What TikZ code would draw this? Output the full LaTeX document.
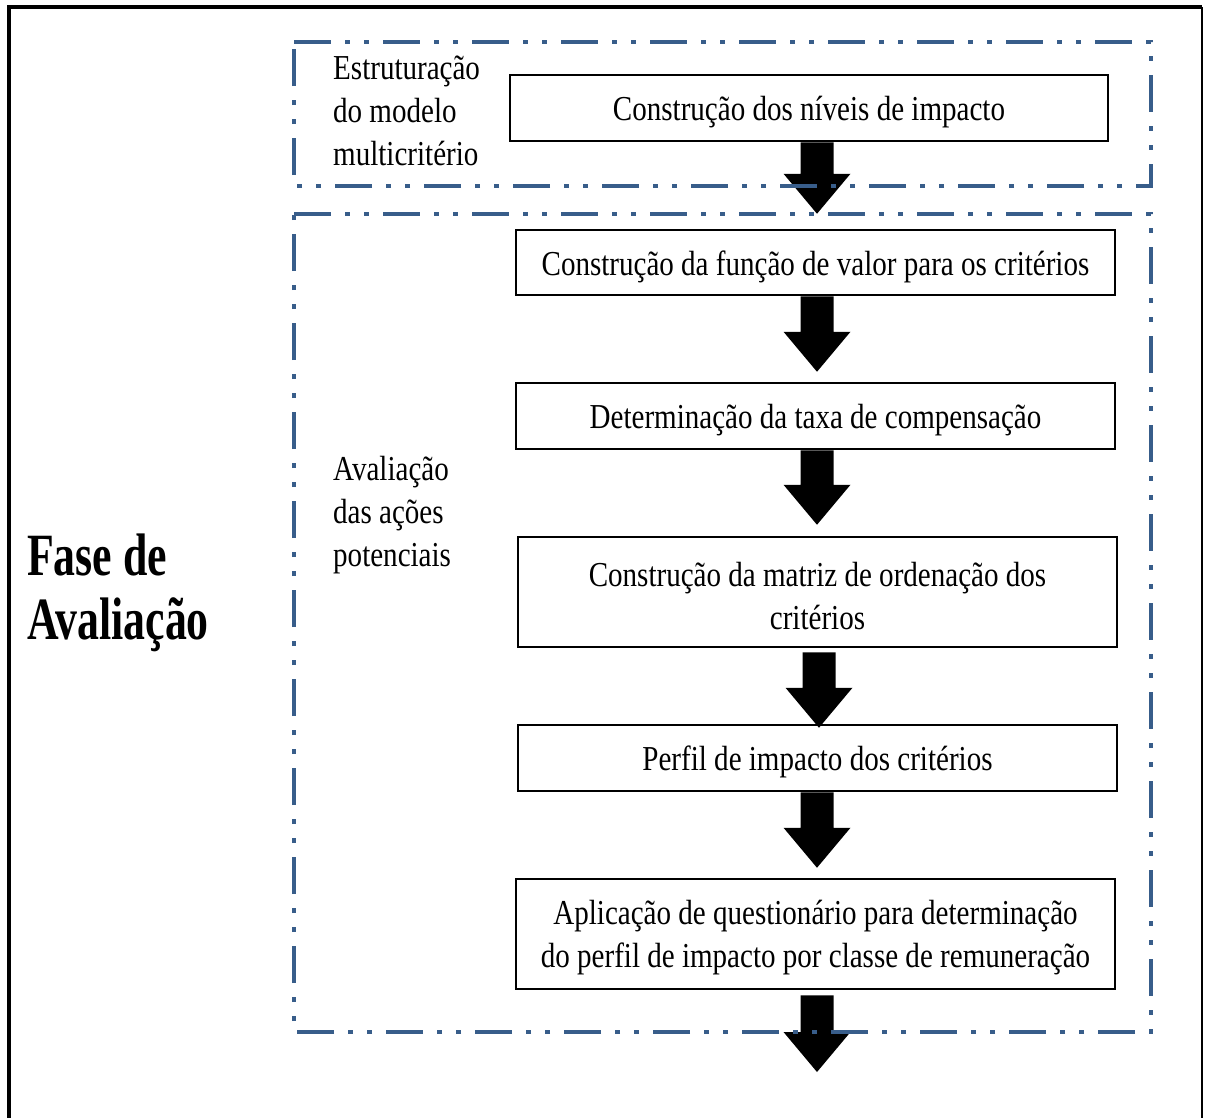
\documentclass[tikz,border=0pt]{standalone}
\usepackage{fontspec}
\setmainfont{Liberation Serif}[FakeStretch=0.83]
\newfontfamily\titlefont{Liberation Serif}[FakeStretch=0.73]
\usetikzlibrary{calc}

\definecolor{frameblue}{HTML}{385D8A}

% set a line a little lower inside its box, keeping the box size
\newcommand\lowline[1]{\raisebox{-4pt}[\height][\depth]{#1}}

\tikzset{
  stepbox/.style={draw=black, line width=2.5pt, fill=white, inner sep=0pt,
    align=center, font=\fontsize{35}{43}\selectfont},
  sidelabel/.style={anchor=west, inner sep=0pt, align=left,
    font=\fontsize{35}{43}\selectfont},
  phaselabel/.style={anchor=west, inner sep=0pt, align=left,
    font=\titlefont\bfseries\fontsize{60}{64}\selectfont},
  groupframe/.style={draw=frameblue, line width=4.5pt,
    dash pattern=on 37pt off 14pt on 5pt off 14pt on 5pt off 14pt},
  blockarrow/.style={fill=black},
}

% thick block arrow: shaft from #1 down to the head, tip at #2
\newcommand\blockarrow[2]{%
  \fill[blockarrow] let \p1=(#1), \p2=(#2) in
    (\x1-16.5pt,\y1) -- (\x1-16.5pt,\y2+40pt) -- (\x1-33.5pt,\y2+40pt)
    -- (\x1,\y2) -- (\x1+33.5pt,\y2+40pt) -- (\x1+16.5pt,\y2+40pt)
    -- (\x1+16.5pt,\y1) -- cycle;}

\begin{document}
\begin{tikzpicture}[x=1pt, y=-1pt]
  \useasboundingbox (0,0) rectangle (1205,1117);

  % outer frame (open at the bottom)
  \draw[line width=4.5pt] (9,1140) -- (9,7) -- (1202,7);
  \draw[line width=2.5pt] (1202,7) -- (1202,1140);

  % phase title
  \node[phaselabel] (phase) at (27,593) {Fase de\\Avaliação};

  % steps
  \node[stepbox, minimum width=598pt, minimum height=66pt] (b1) at (809,108)
    {\lowline{Construção dos níveis de impacto}};
  \node[stepbox, minimum width=599pt, minimum height=65pt] (b2) at (815.5,262.5)
    {\lowline{Construção da função de valor para os critérios}};
  \node[stepbox, minimum width=599pt, minimum height=66pt] (b3) at (815.5,416)
    {\lowline{Determinação da taxa de compensação}};
  \node[stepbox, minimum width=599pt, minimum height=110pt] (b4) at (817.5,592)
    {\lowline{Construção da matriz de ordenação dos}\\\lowline{critérios}};
  \node[stepbox, minimum width=599pt, minimum height=66pt] (b5) at (817.5,758)
    {\lowline{Perfil de impacto dos critérios}};
  \node[stepbox, minimum width=599pt, minimum height=110pt] (b6) at (815.5,934)
    {\lowline{Aplicação de questionário para determinação}\\
     \lowline{do perfil de impacto por classe de remuneração}};

  % arrow axis and free end of the last arrow
  \coordinate (ax) at (817,0);
  \coordinate (out) at (817,1072);

  \blockarrow{b1.south -| ax}{$(b2.north -| ax)+(0,-15)$}
  \blockarrow{b2.south -| ax}{$(b3.north -| ax)+(0,-10)$}
  \blockarrow{b3.south -| ax}{$(b4.north -| ax)+(0,-11)$}
  \blockarrow{$(b4.south -| ax)+(2,4)$}{$(b5.north -| ax)+(2,4)$}
  \blockarrow{b5.south -| ax}{$(b6.north -| ax)+(0,-10)$}
  \blockarrow{$(b6.south -| ax)+(0,5)$}{out}

  % group frames, drawn over the arrows
  \draw[groupframe] (294,42) -- (1151,42) -- (1151,186) -- (294,186) -- cycle;
  \draw[groupframe] (294,214) -- (1151,214) -- (1151,1032) -- (294,1032) -- cycle;

  % group labels
  \node[sidelabel] (g1) at (333,111) {Estruturação\\do modelo\\multicritério};
  \node[sidelabel] (g2) at (333,515) {Avaliação\\das ações\\potenciais};
\end{tikzpicture}
\end{document}
